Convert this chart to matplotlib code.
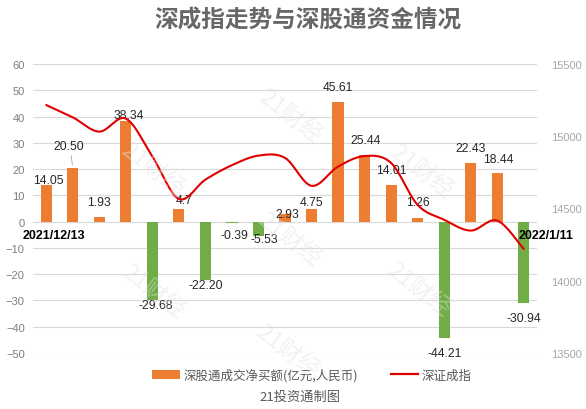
import numpy as np
import matplotlib
matplotlib.use("Agg")
import matplotlib.pyplot as plt
from matplotlib.patches import Patch
from matplotlib.lines import Line2D

plt.rcParams['font.family'] = ['Liberation Sans', 'Noto Sans CJK SC', 'DejaVu Sans']

# ---------------- data ----------------
dates = ["2021/12/13", "12/14", "12/15", "12/16", "12/17", "12/20", "12/21", "12/22",
         "12/23", "12/24", "12/28", "12/29", "12/30", "12/31", "2022/1/4", "1/5",
         "1/6", "1/7", "2022/1/11"]
net_buy = [14.05, 20.50, 1.93, 38.34, -29.68, 4.7, -22.20, -0.39, -5.53, 2.93,
           4.75, 45.61, 25.44, 14.01, 1.26, -44.21, 22.43, 18.44, -30.94]
net_buy_labels = ["14.05", "20.50", "1.93", "38.34", "-29.68", "4.7", "-22.20", "-0.39",
                  "-5.53", "2.93", "4.75", "45.61", "25.44", "14.01", "1.26", "-44.21",
                  "22.43", "18.44", "-30.94"]
szci = [15216, 15131, 15032, 15122, 14860, 14566, 14700, 14800, 14866, 14850,
        14657, 14790, 14863, 14815, 14525, 14422, 14347, 14416, 14220]
left_ticks = list(range(-50, 61, 10))
right_ticks = [13500, 14000, 14500, 15000, 15500]

title = "深成指走势与深股通资金情况"
legend_bar = "深股通成交净买额(亿元,人民币)"
legend_line = "深证成指"
source = "21投资通制图"
watermark = "21财经"

# label layout (pixel offsets of label centres from bar ends)
label_dy = [5, 22, 15, 6, -5, 9, -5, -12, -3, 0, 7, 15, 15, 15, 16, -15, 15, 14, -15]
label_dx = [2, -4, 0, 3, 3, 5, 0, 2, 6, 2, 0, 0, 1, 0, 0, 1, 0, 1, 0]

ORANGE = "#ED7D31"
GREEN = "#70AD47"
RED = "#E00000"
GRID = "#D9D9D9"
TXT = "#595959"
TICK = "#7F7F7F"

W, H = 586, 410
fig = plt.figure(figsize=(W / 100, H / 100), dpi=100)
L, R, T, B = 33, 537, 65, 354
ax = fig.add_axes([L / W, 1 - B / H, (R - L) / W, (B - T) / H])
ax2 = ax.twinx()

x = np.arange(len(net_buy))
colors = [ORANGE if v >= 0 else GREEN for v in net_buy]
ax.bar(x, net_buy, width=0.42, color=colors, zorder=2)

ax.set_xlim(-0.5, len(net_buy) - 0.5)
ax.set_ylim(-50, 60)
ax.set_yticks(left_ticks)
ax.set_xticks([])
ax.grid(axis='y', color=GRID, linewidth=0.8, zorder=0)
ax.set_axisbelow(True)
for s in ax.spines.values():
    s.set_visible(False)
for s in ax2.spines.values():
    s.set_visible(False)
ax.tick_params(axis='y', length=0, pad=6, labelsize=8, labelcolor=TICK)

ax2.set_ylim(13500, 15500)
ax2.set_yticks(right_ticks)
ax2.tick_params(axis='y', length=0, pad=10, labelsize=8, labelcolor="#A6A6A6")

# smooth line (Catmull-Rom / Excel-like smoothing)
px = np.array(x, dtype=float)
py = np.array(szci, dtype=float)
xs, ys = [], []
n = len(px)
for i in range(n - 1):
    p0 = np.array([px[max(i - 1, 0)], py[max(i - 1, 0)]])
    p1 = np.array([px[i], py[i]])
    p2 = np.array([px[i + 1], py[i + 1]])
    p3 = np.array([px[min(i + 2, n - 1)], py[min(i + 2, n - 1)]])
    c1 = p1 + (p2 - p0) / 6.0
    c2 = p2 - (p3 - p1) / 6.0
    t = np.linspace(0, 1, 30)[:, None]
    seg = ((1 - t) ** 3) * p1 + 3 * ((1 - t) ** 2) * t * c1 + 3 * (1 - t) * t ** 2 * c2 + t ** 3 * p2
    xs.extend(seg[:, 0]); ys.extend(seg[:, 1])
ax2.plot(xs, ys, color=RED, linewidth=1.5, zorder=3, solid_capstyle='round')

# data labels
for i, (v, lab) in enumerate(zip(net_buy, net_buy_labels)):
    ax.annotate(lab, xy=(i, v), xytext=(label_dx[i] / 1.389, label_dy[i] / 1.389),
                textcoords='offset points', ha='center', va='center',
                fontsize=8.7, color="#262626", zorder=5)
# leader line for 20.50
ax.annotate("", xy=(1, net_buy[1]), xytext=(-2 / 1.389, 15 / 1.389),
            textcoords='offset points',
            arrowprops=dict(arrowstyle='-', color="#A6A6A6", linewidth=0.6))

# first / last category labels
ax.annotate(dates[0], xy=(0, 0), xytext=(8 / 1.389, -13 / 1.389), textcoords='offset points',
            ha='center', va='center', fontsize=9, fontweight='bold', color='black', zorder=6)
ax.annotate(dates[-1], xy=(len(dates) - 1, 0), xytext=(22 / 1.389, -13 / 1.389),
            textcoords='offset points', ha='center', va='center', fontsize=9,
            fontweight='bold', color='black', zorder=6)

# title, legend, source
fig.text(308 / W, 1 - 21 / H, title, ha='center', va='center', fontsize=17,
         color="#676767", fontweight='bold', family=['Noto Sans CJK SC', 'DejaVu Sans'])
handles = [Patch(facecolor=ORANGE, edgecolor='none'),
           Line2D([0], [0], color=RED, linewidth=1.6)]
leg = fig.legend(handles, [legend_bar, legend_line], loc='center',
                 bbox_to_anchor=(312 / W, 1 - 376 / H), ncol=2, frameon=False,
                 prop={'family': ['Noto Sans CJK SC', 'DejaVu Sans'], 'size': 9},
                 handlelength=2.2, handleheight=0.7, handletextpad=0.3, columnspacing=2.6)
for t in leg.get_texts():
    t.set_color(TXT)
fig.text(300 / W, 1 - 397 / H, source, ha='center', va='center', fontsize=9.5, color=TXT,
         family=['Noto Sans CJK SC', 'DejaVu Sans'])

# watermarks
for (wx, wy) in [(290, 117), (152, 170), (421, 172), (289, 240), (153, 292), (418, 290), (287, 352)]:
    fig.text(wx / W, 1 - wy / H, watermark, ha='center', va='center', fontsize=17,
             rotation=-38, color='#E2E2E2', alpha=0.45,
             family=['Noto Sans CJK SC', 'DejaVu Sans'], zorder=10)

fig.savefig("out.png", dpi=100, facecolor='white')
